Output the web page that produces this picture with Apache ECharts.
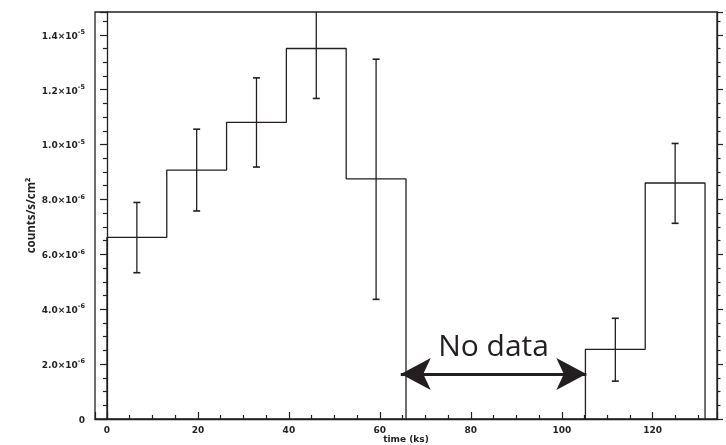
<!DOCTYPE html>
<html>
<head>
<meta charset="utf-8">
<script src="https://cdn.jsdelivr.net/npm/echarts@6/dist/echarts.min.js"></script>
<style>
html,body{margin:0;padding:0;background:#fff;}
#chart{width:726px;height:445px;}
</style>
</head>
<body>
<div id="chart"></div>
<script>
// ---- data ----
const binLeft  = [0, 13.15, 26.3, 39.45, 52.6, 105.2, 118.35];
const binRight = [13.15, 26.3, 39.45, 52.6, 65.75, 118.35, 131.5];
const rate     = [6.62e-6, 9.07e-6, 10.81e-6, 13.5e-6, 8.75e-6, 2.54e-6, 8.6e-6];
const errLow   = [5.33e-6, 7.58e-6, 9.18e-6, 11.68e-6, 4.36e-6, 1.38e-6, 7.13e-6];
const errHigh  = [7.89e-6, 10.56e-6, 12.43e-6, 15.32e-6, 13.11e-6, 3.67e-6, 10.04e-6];
const gapStart = [64.6, 1.64e-6];
const gapEnd   = [105.4, 1.64e-6];
const gapText  = 'No data';
const xRange = [-2.63, 134.13];
const yRange = [0, 14.83e-6];
const xTitle = 'time (ks)';
const yTitle = 'counts/s/cm²';

// ---- build step outlines (one per contiguous run of bins) ----
const runs = [];
let cur = null;
for (let i = 0; i < rate.length; i++) {
  if (!cur || Math.abs(binLeft[i] - binRight[i - 1]) > 1e-9) {
    if (cur) { cur.push([binRight[i - 1], 0]); runs.push(cur); }
    cur = [[binLeft[i], 0]];
  }
  cur.push([binLeft[i], rate[i]]);
  cur.push([binRight[i], rate[i]]);
}
cur.push([binRight[rate.length - 1], 0]);
runs.push(cur);

const errData = rate.map((v, i) => [(binLeft[i] + binRight[i]) / 2, errLow[i], errHigh[i]]);

const INK = '#231f20';
const FONT = 'DejaVu Sans';

function sciLabel(v) {
  if (Math.abs(v) < 1e-12) return '{m|0}';
  const s = v.toExponential(1); // e.g. 1.4e-5
  const parts = s.split('e');
  return '{m|' + parts[0] + '×10}{e|' + String(parseInt(parts[1], 10)) + '}';
}

const chart = echarts.init(document.getElementById('chart'), null, {renderer: 'canvas'});

const series = runs.map(r => ({
  type: 'line',
  data: r,
  symbol: 'none',
  silent: true,
  animation: false,
  lineStyle: {color: INK, width: 1.3},
  z: 3
}));

series.push({
  type: 'custom',
  data: errData,
  silent: true,
  animation: false,
  z: 4,
  renderItem: function (params, api) {
    const x = api.value(0);
    const lo = api.coord([x, api.value(1)]);
    const hi = api.coord([x, api.value(2)]);
    const top = params.coordSys.y;
    const cw = 3.5;
    const children = [];
    const hy = Math.max(hi[1], top);
    children.push({type: 'line', shape: {x1: lo[0], y1: lo[1], x2: hi[0], y2: hy}, style: {stroke: INK, lineWidth: 1.3}});
    children.push({type: 'line', shape: {x1: lo[0] - cw, y1: lo[1], x2: lo[0] + cw, y2: lo[1]}, style: {stroke: INK, lineWidth: 1.6}});
    if (hi[1] >= top) {
      children.push({type: 'line', shape: {x1: hi[0] - cw, y1: hi[1], x2: hi[0] + cw, y2: hi[1]}, style: {stroke: INK, lineWidth: 1.6}});
    }
    return {type: 'group', children: children};
  }
});

series.push({
  type: 'line',
  data: [],
  silent: true,
  animation: false,
  markLine: {
    silent: true,
    animation: false,
    symbol: ['arrow', 'arrow'],
    symbolSize: [24, 30],
    lineStyle: {color: INK, width: 2.8, type: 'solid'},
    label: {
      show: true,
      position: 'middle',
      formatter: gapText,
      fontFamily: 'Open Sans',
      fontSize: 30,
      color: INK,
      distance: 12
    },
    data: [[{coord: gapStart}, {coord: gapEnd}]]
  }
});

const yAxisCommon = {
  type: 'value',
  min: yRange[0],
  max: yRange[1],
  interval: 2e-6,
  splitLine: {show: false},
  axisLine: {show: true, lineStyle: {color: INK, width: 1.3}},
  axisTick: {show: true, inside: false, length: 7, lineStyle: {color: INK, width: 1.2}},
  minorTick: {show: true, splitNumber: 4, length: 4, lineStyle: {color: INK, width: 1.2}}
};

chart.setOption({
  animation: false,
  backgroundColor: '#fff',
  grid: {left: 95, right: 9, top: 12, bottom: 26, show: true, borderColor: INK, borderWidth: 1.3,
         containLabel: false, outerBoundsMode: 'none'},
  xAxis: {
    type: 'value',
    min: xRange[0],
    max: xRange[1],
    splitNumber: 7,
    name: xTitle,
    nameLocation: 'middle',
    nameGap: 16,
    nameMoveOverlap: false,
    nameTextStyle: {fontFamily: FONT, fontWeight: 'bold', fontSize: 9, color: INK},
    splitLine: {show: false},
    axisLine: {show: true, onZero: false, lineStyle: {color: INK, width: 1.3}},
    axisTick: {show: true, inside: true, length: 7, lineStyle: {color: INK, width: 1.2}},
    minorTick: {show: true, splitNumber: 4, length: 4, lineStyle: {color: INK, width: 1.2}},
    axisLabel: {
      showMinLabel: false, showMaxLabel: false,
      margin: 7,
      fontFamily: FONT, fontWeight: 'bold', fontSize: 9, color: INK,
      formatter: v => String(Math.round(v))
    }
  },
  yAxis: [
    Object.assign({}, yAxisCommon, {
      position: 'left',
      name: yTitle,
      nameLocation: 'middle',
      nameGap: 57,
      nameRotate: 90,
      nameMoveOverlap: false,
      nameTextStyle: {fontFamily: 'Open Sans', fontWeight: 'bold', fontSize: 11.5, color: INK},
      axisLabel: {
        showMaxLabel: false,
        margin: 10,
        color: INK,
        formatter: sciLabel,
        rich: {
          m: {fontFamily: FONT, fontWeight: 'bold', fontSize: 9, color: INK, lineHeight: 12, verticalAlign: 'bottom'},
          e: {fontFamily: FONT, fontWeight: 'bold', fontSize: 6.5, color: INK, lineHeight: 12, verticalAlign: 'top'}
        }
      }
    }),
    Object.assign({}, yAxisCommon, {
      position: 'right',
      axisTick: {show: true, inside: false, length: 6, lineStyle: {color: INK, width: 1.2}},
      minorTick: {show: true, splitNumber: 4, length: 3.5, lineStyle: {color: INK, width: 1.2}},
      axisLabel: {show: false}
    })
  ],
  series: series
});
</script>
</body>
</html>
